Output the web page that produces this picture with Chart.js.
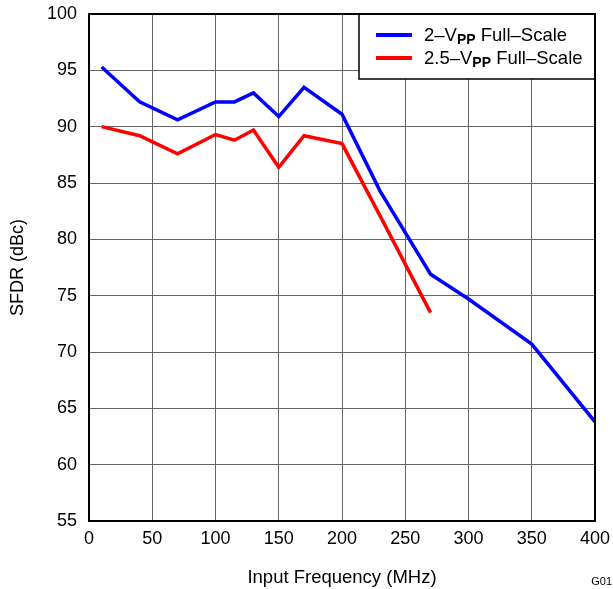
<!DOCTYPE html>
<html>
<head>
<meta charset="utf-8">
<script src="https://cdn.jsdelivr.net/npm/chart.js@4"></script>
<style>
  html, body { margin: 0; padding: 0; background: #fff; }
  #wrap { width: 613px; height: 589px; position: relative; }
</style>
</head>
<body>
<div id="wrap"><canvas id="sfdrChart"></canvas></div>
<script>
// values
const freq2V = [10, 40, 70, 100, 115, 130, 150, 170, 200, 230, 270, 300, 350, 400];
const sfdr2V = [95.3, 92.2, 90.6, 92.2, 92.2, 93.0, 90.9, 93.5, 91.1, 84.3, 76.9, 74.7, 70.7, 63.8];
const freq25V = [10, 40, 70, 100, 115, 130, 150, 170, 200, 230, 270];
const sfdr25V = [90.0, 89.2, 87.6, 89.3, 88.8, 89.7, 86.4, 89.2, 88.5, 82.1, 73.5];

const legendPrefix = ["2\u2013V", "2.5\u2013V"];
const legendSub = ["PP", "PP"];
const legendSuffix = [" Full\u2013Scale", " Full\u2013Scale"];

const FAM = '"Liberation Sans", Arial, Helvetica, sans-serif';

function toPoints(xs, ys) {
  return xs.map((x, i) => ({ x: x, y: ys[i] }));
}

// frame, legend box with subscripts, and the G01 tag
const frameAndLegend = {
  id: "frameAndLegend",
  afterDraw(chart) {
    const { ctx, chartArea: a } = chart;
    ctx.save();

    const bx = 359, by = a.top, bw = a.right - bx, bh = 65;
    ctx.fillStyle = "#fff";
    ctx.fillRect(bx, by, bw, bh);
    ctx.strokeStyle = "#000";
    ctx.lineWidth = 1.5;
    ctx.strokeRect(bx, by, bw, bh);

    chart.data.datasets.forEach((ds, i) => {
      const y = by + 21 + i * 23;
      ctx.strokeStyle = ds.borderColor;
      ctx.lineWidth = 4;
      ctx.beginPath();
      ctx.moveTo(bx + 17, y);
      ctx.lineTo(bx + 53, y);
      ctx.stroke();

      let x = bx + 65;
      const ty = y + 1;
      ctx.fillStyle = "#000";
      ctx.textBaseline = "middle";
      ctx.textAlign = "left";
      ctx.font = "18.5px " + FAM;
      ctx.fillText(legendPrefix[i], x, ty);
      x += ctx.measureText(legendPrefix[i]).width;
      ctx.font = "bold 14px " + FAM;
      ctx.fillText(legendSub[i], x, ty + 4);
      x += ctx.measureText(legendSub[i]).width;
      ctx.font = "18.5px " + FAM;
      ctx.fillText(legendSuffix[i], x, ty);
    });

    ctx.strokeStyle = "#000";
    ctx.lineWidth = 2;
    ctx.strokeRect(a.left, a.top, a.right - a.left, a.bottom - a.top);

    ctx.fillStyle = "#000";
    ctx.font = "11px " + FAM;
    ctx.textAlign = "right";
    ctx.textBaseline = "middle";
    ctx.fillText("G01", 612, 582);
    ctx.restore();
  },
};

window.addEventListener("load", () => {
  const ctx = document.getElementById("sfdrChart");
  new Chart(ctx, {
    type: "line",
    data: {
      datasets: [
        {
          label: "2-Vpp Full-Scale",
          data: toPoints(freq2V, sfdr2V),
          borderColor: "#0000ff",
          borderWidth: 3.5,
          pointRadius: 0,
          tension: 0,
        },
        {
          label: "2.5-Vpp Full-Scale",
          data: toPoints(freq25V, sfdr25V),
          borderColor: "#ff0000",
          borderWidth: 3.5,
          pointRadius: 0,
          tension: 0,
        },
      ],
    },
    options: {
      responsive: true,
      maintainAspectRatio: false,
      animation: false,
      layout: { padding: { left: 0, right: 18, top: 14, bottom: 0 } },
      scales: {
        x: {
          type: "linear",
          min: 0,
          max: 400,
          ticks: {
            stepSize: 50,
            padding: 7,
            color: "#000",
            font: { family: FAM, size: 18 },
            maxRotation: 0,
          },
          grid: { color: "#666", lineWidth: 1, drawTicks: false },
          border: { display: false },
          title: {
            display: true,
            text: "Input Frequency (MHz)",
            color: "#000",
            font: { family: FAM, size: 18.5 },
            padding: { top: 0, bottom: 0 },
          },
          afterFit(scale) {
            scale.height = 68;
            scale.paddingLeft = 0;
            scale.paddingRight = 0;
          },
        },
        y: {
          min: 55,
          max: 100,
          ticks: {
            stepSize: 5,
            padding: 12,
            color: "#000",
            font: { family: FAM, size: 18 },
          },
          grid: { color: "#666", lineWidth: 1, drawTicks: false },
          border: { display: false },
          title: {
            display: true,
            text: "SFDR (dBc)",
            color: "#000",
            font: { family: FAM, size: 18 },
            padding: { top: 7, bottom: 0 },
          },
          afterFit(scale) {
            scale.width = 89;
            scale.paddingTop = 0;
            scale.paddingBottom = 0;
          },
        },
      },
      plugins: {
        legend: { display: false },
        tooltip: { enabled: false },
      },
    },
    plugins: [frameAndLegend],
  });
});
</script>
</body>
</html>
